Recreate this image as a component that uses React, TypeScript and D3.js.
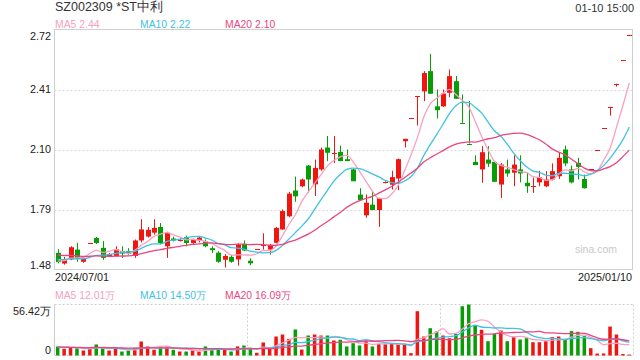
import React from "react";
import * as d3 from "d3";

const title = "SZ002309 *ST中利";
const timeLabel = "01-10 15:00";
const startDate = "2024/07/01";
const endDate = "2025/01/10";
const priceTicks = [1.48, 1.79, 2.1, 2.41, 2.72];
const volMax = 56.42;
const volTickLabels = ["56.42万", "0"];
const maLabels = ["MA5 2.44", "MA10 2.22", "MA20 2.10"];
const volMaLabels = ["MA5 12.01万", "MA10 14.50万", "MA20 16.09万"];
const maPeriods = [5, 10, 20];

const opens = [
  1.566, 1.511, 1.532, 1.583, 1.52, 1.615, 1.643, 1.592, 1.55, 1.55,
  1.575, 1.575, 1.55, 1.63, 1.65, 1.67, 1.7, 1.6, 1.64, 1.632,
  1.647, 1.617, 1.63, 1.625, 1.59, 1.567, 1.53, 1.545, 1.532, 1.612,
  1.525, 1.587, 1.6, 1.583, 1.618, 1.687, 1.755, 1.888, 1.91, 2.017,
  1.92, 1.997, 2.11, 2.083, 2.088, 2.05, 1.997, 1.867, 1.76, 1.815,
  1.787, 1.93, 1.918, 1.95, 2.143, 2.263, 2.376, 2.4, 2.505, 2.323,
  2.323, 2.393, 2.453, 2.238, 2.131, 2.036, 1.997, 2.048, 2.036, 1.919,
  1.997, 1.98, 1.997, 1.928, 1.914, 1.93, 1.91, 1.945, 1.962, 2.1,
  1.997, 2.031, 1.948, 2.0, 2.1, 2.21, 2.32, 2.44, 2.56, 2.69,
];
const highs = [
  1.585, 1.545, 1.6, 1.618, 1.545, 1.615, 1.648, 1.627, 1.565, 1.6,
  1.6, 1.59, 1.635, 1.74, 1.7, 1.74, 1.72, 1.675, 1.65, 1.64,
  1.655, 1.64, 1.65, 1.635, 1.6, 1.575, 1.56, 1.555, 1.615, 1.63,
  1.538, 1.587, 1.667, 1.612, 1.7, 1.79, 1.88, 1.96, 1.95, 2.02,
  2.048, 2.11, 2.17, 2.17, 2.12, 2.1, 2.0, 1.9, 1.867, 1.885,
  1.85, 1.935, 1.99, 2.053, 2.155, 2.263, 2.376, 2.505, 2.594, 2.41,
  2.41, 2.513, 2.48, 2.384, 2.35, 2.07, 2.117, 2.117, 2.04, 2.03,
  2.048, 2.07, 2.07, 1.98, 1.955, 1.99, 1.988, 2.028, 2.083, 2.12,
  2.017, 2.057, 1.97, 2.0, 2.1, 2.21, 2.32, 2.44, 2.56, 2.69,
];
const lows = [
  1.512, 1.505, 1.528, 1.52, 1.515, 1.615, 1.612, 1.53, 1.545, 1.545,
  1.54, 1.555, 1.54, 1.62, 1.645, 1.66, 1.61, 1.54, 1.625, 1.625,
  1.6, 1.61, 1.62, 1.595, 1.565, 1.515, 1.49, 1.515, 1.5, 1.575,
  1.502, 1.587, 1.583, 1.557, 1.615, 1.685, 1.75, 1.83, 1.905, 1.876,
  1.86, 1.99, 2.04, 2.03, 2.04, 2.04, 1.936, 1.838, 1.747, 1.787,
  1.7, 1.925, 1.893, 1.89, 2.11, 2.263, 2.224, 2.35, 2.388, 2.26,
  2.32, 2.37, 2.362, 2.238, 2.131, 2.02, 1.928, 2.01, 1.933, 1.85,
  1.959, 1.91, 1.93, 1.876, 1.876, 1.91, 1.905, 1.94, 1.948, 2.014,
  1.925, 1.945, 1.898, 2.0, 2.1, 2.21, 2.275, 2.425, 2.56, 2.69,
];
const closes = [
  1.518, 1.53, 1.595, 1.535, 1.537, 1.615, 1.617, 1.54, 1.56, 1.585,
  1.562, 1.56, 1.63, 1.687, 1.685, 1.695, 1.617, 1.67, 1.63, 1.632,
  1.617, 1.632, 1.645, 1.6, 1.58, 1.52, 1.55, 1.52, 1.61, 1.578,
  1.512, 1.587, 1.605, 1.608, 1.695, 1.782, 1.872, 1.858, 1.945, 1.945,
  2.005, 2.1, 2.083, 2.083, 2.04, 2.04, 1.936, 1.838, 1.825, 1.787,
  1.85, 1.93, 1.957, 2.05, 2.155, 2.263, 2.376, 2.495, 2.388, 2.303,
  2.389, 2.479, 2.362, 2.238, 2.131, 2.02, 2.086, 2.027, 1.933, 2.022,
  1.976, 2.022, 1.976, 1.91, 1.914, 1.957, 1.945, 1.988, 2.057, 2.028,
  1.93, 2.01, 1.9, 2.0, 2.1, 2.21, 2.32, 2.44, 2.56, 2.69,
];
const volumes = [
  9.96, 7.4, 8.5, 8.1, 5.5, 7.4, 12.2, 8.1, 5.5, 7.4,
  4.4, 5.5, 8.5, 15.5, 10, 6.3, 10, 10, 6.3, 4.4,
  4.4, 5.5, 4.4, 10, 6.3, 8.1, 7.4, 4.4, 10, 11,
  7.4, 3, 14.4, 8.1, 21, 23.2, 18.4, 28.8, 6.6, 22.1,
  23.2, 22.1, 22.1, 16.6, 17.4, 10, 13.6, 11.1, 16.6, 10,
  12.9, 12.9, 12.9, 12.9, 12.2, 2.6, 49, 21, 30.2, 26.5,
  22.1, 19.1, 24, 54.5, 56.42, 33.2, 28.4, 15.8, 24, 27.7,
  15.8, 20.3, 17.7, 19.1, 14.7, 14.7, 15.8, 20.3, 21, 17.4,
  27, 26.25, 21.4, 8.1, 2.2, 2.25, 32, 23.2, 1.6, 1.0,
];
// closes / volumes of the 19 sessions before the window (for moving averages)
const prevCloses = [
  1.6, 1.59, 1.58, 1.6, 1.59, 1.58, 1.57, 1.58, 1.56, 1.55,
  1.54, 1.55, 1.54, 1.53, 1.54, 1.52, 1.53, 1.53, 1.52,
];
const prevVolumes = [
  8, 10, 9, 11, 7, 9, 10, 8, 9, 12, 8, 9, 10, 7, 9, 11, 8, 10, 9,
];

const RED = "#f0150f";
const GREEN = "#069d06";
const MA_COLORS = ["#f8a0bf", "#3ec3e2", "#eb4581"];
const FONT = "Arial, 'Liberation Sans', sans-serif";

const W = 640;
const H = 360;
const L = 54.5;
const R = 632.5;
const MT = 29.5;
const MB = 269.5;
const VT = 304.5;
const VB = 355.5;

function movingAvg(all: number[], offset: number, n: number, count: number) {
  const out: number[] = [];
  for (let i = 0; i < count; i++) {
    const end = i + offset;
    out.push(d3.mean(all.slice(end - n + 1, end + 1)) as number);
  }
  return out;
}

export default function App() {
  const N = closes.length;
  const x = d3.scaleBand<number>().domain(d3.range(N)).range([L, R]);
  const step = x.step();
  const cx = (i: number) => (x(i) as number) + step / 2;
  const y = d3.scaleLinear().domain([1.48, 2.72]).range([MB, MT]);
  const yv = d3.scaleLinear().domain([0, volMax]).range([VB, VT]);

  const allC = prevCloses.concat(closes);
  const allV = prevVolumes.concat(volumes);
  const off = prevCloses.length;
  const priceMAs = maPeriods.map((p) => movingAvg(allC, off, p, N));
  const volMAs = maPeriods.map((p) => movingAvg(allV, prevVolumes.length, p, N));

  const lineP = d3
    .line<number>()
    .x((_, i) => cx(i))
    .y((d) => y(d))
    .curve(d3.curveMonotoneX);
  const lineV = d3
    .line<number>()
    .x((_, i) => cx(i))
    .y((d) => yv(d))
    .curve(d3.curveMonotoneX);

  const isUp = (i: number) => {
    if (closes[i] > opens[i]) return true;
    if (closes[i] < opens[i]) return false;
    const prev = i > 0 ? closes[i - 1] : allC[off - 1];
    return closes[i] >= prev;
  };

  const bodyW = 5;
  const volW = 3.5;
  const grid = [1.79, 2.1, 2.41];
  const thirds = [1, 2].map((k) => L + ((R - L) * k) / 3);

  return (
    <svg
      width={W}
      height={H}
      style={{ position: "absolute", left: 0, top: 0, background: "#fff" }}
      fontFamily={FONT}
    >
      <rect x={0} y={0} width={W} height={H} fill="#fff" />
      {/* header */}
      <text x={55} y={11} fontSize={12.5} fill="#333">
        {title}
      </text>
      <text x={634} y={11.5} fontSize={11} fill="#333" textAnchor="end">
        {timeLabel}
      </text>
      {maLabels.map((t, k) => (
        <text key={t} x={55 + k * 85} y={27.5} fontSize={10.4} fill={MA_COLORS[k]}>
          {t}
        </text>
      ))}

      {/* main frame & grid */}
      {grid.map((v) => (
        <line
          key={v}
          x1={L}
          x2={R}
          y1={Math.round(y(v)) + 0.5}
          y2={Math.round(y(v)) + 0.5}
          stroke="#d8d8d8"
          strokeDasharray="2,2"
        />
      ))}
      <rect x={L} y={MT} width={R - L} height={MB - MT} fill="none" stroke="#cfcfcf" />
      {priceTicks.map((v, k) => (
        <text
          key={v}
          x={51}
          y={y(v)}
          dy={k === 0 ? "-0.05em" : k === priceTicks.length - 1 ? "0.95em" : "0.35em"}
          fontSize={10.8}
          fill="#222"
          textAnchor="end"
        >
          {v.toFixed(2)}
        </text>
      ))}
      <text x={596} y={253} fontSize={10.5} fill="#c8c8c8" textAnchor="middle">
        sina.com
      </text>

      {/* candles */}
      {closes.map((c, i) => {
        const up = isUp(i);
        const col = up ? RED : GREEN;
        const xc = Math.round(cx(i)) + 0.5;
        const top = y(Math.max(opens[i], c));
        const bot = y(Math.min(opens[i], c));
        const h = Math.max(1, bot - top);
        return (
          <g key={i}>
            <line x1={xc} x2={xc} y1={y(highs[i])} y2={y(lows[i])} stroke={col} strokeWidth={1} />
            <rect x={xc - bodyW / 2} y={h <= 1 ? Math.round(top) : top} width={bodyW} height={h} fill={col} />
          </g>
        );
      })}

      {/* price MAs */}
      {priceMAs.map((d, k) => (
        <path key={k} d={lineP(d) as string} fill="none" stroke={MA_COLORS[k]} strokeWidth={1.3} />
      ))}

      {/* dates */}
      <text x={55} y={281} fontSize={10.8} fill="#222">
        {startDate}
      </text>
      <text x={632} y={281} fontSize={10.8} fill="#222" textAnchor="end">
        {endDate}
      </text>

      {/* volume panel */}
      {volMaLabels.map((t, k) => (
        <text key={t} x={55 + k * 85} y={299} fontSize={10.4} fill={MA_COLORS[k]}>
          {t}
        </text>
      ))}
      <line x1={L} x2={R} y1={VT} y2={VT} stroke="#cfcfcf" strokeDasharray="2,2" />
      <line x1={L} x2={R} y1={VB} y2={VB} stroke="#cfcfcf" strokeDasharray="2,2" />
      {thirds.concat([R]).map((xv) => (
        <line
          key={xv}
          x1={Math.round(xv) + 0.5}
          x2={Math.round(xv) + 0.5}
          y1={VT}
          y2={VB}
          stroke="#cfcfcf"
          strokeDasharray="2,2"
        />
      ))}
      <line x1={L} x2={L} y1={VT} y2={VB} stroke="#cfcfcf" />
      <text x={51} y={VT} dy="0.95em" fontSize={10.8} fill="#222" textAnchor="end">
        {volTickLabels[0]}
      </text>
      <text x={51} y={VB} dy="-0.1em" fontSize={10.8} fill="#222" textAnchor="end">
        {volTickLabels[1]}
      </text>
      {volumes.map((v, i) => {
        const xc = cx(i);
        return (
          <rect
            key={i}
            x={xc - volW / 2}
            y={yv(v)}
            width={volW}
            height={Math.max(0.8, VB - yv(v))}
            fill={isUp(i) ? RED : GREEN}
          />
        );
      })}
      {volMAs.map((d, k) => (
        <path key={k} d={lineV(d) as string} fill="none" stroke={MA_COLORS[k]} strokeWidth={1.3} />
      ))}
    </svg>
  );
}
